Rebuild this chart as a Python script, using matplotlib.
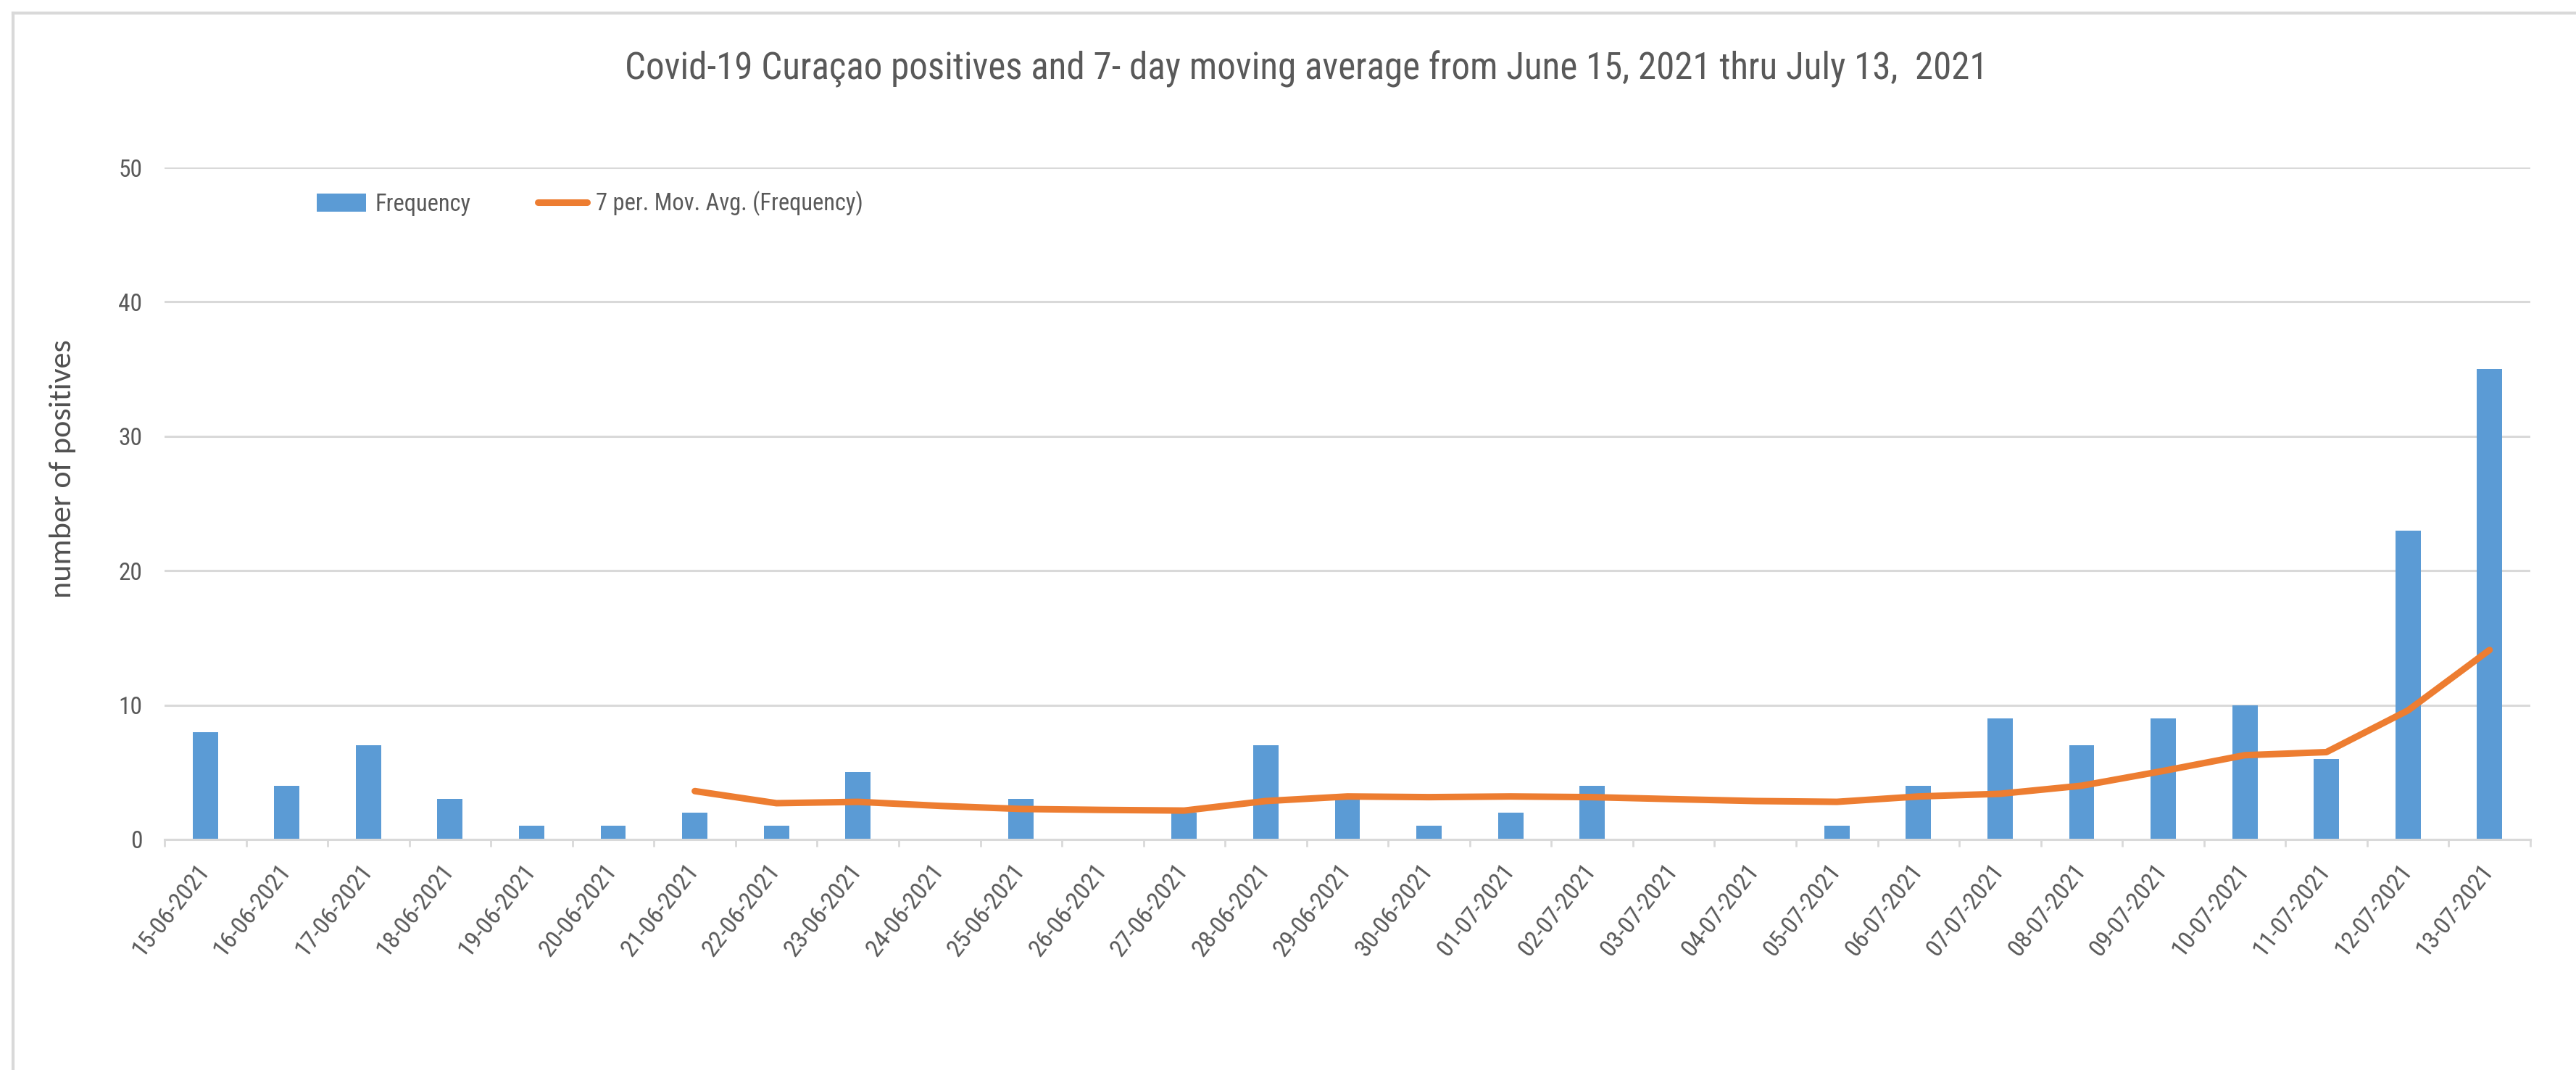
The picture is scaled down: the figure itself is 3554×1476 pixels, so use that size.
import numpy as np
import matplotlib
matplotlib.use("Agg")
import matplotlib.pyplot as plt
from matplotlib.lines import Line2D
from matplotlib.patches import Patch

dates = ["15-06-2021", "16-06-2021", "17-06-2021", "18-06-2021", "19-06-2021",
         "20-06-2021", "21-06-2021", "22-06-2021", "23-06-2021", "24-06-2021",
         "25-06-2021", "26-06-2021", "27-06-2021", "28-06-2021", "29-06-2021",
         "30-06-2021", "01-07-2021", "02-07-2021", "03-07-2021", "04-07-2021",
         "05-07-2021", "06-07-2021", "07-07-2021", "08-07-2021", "09-07-2021",
         "10-07-2021", "11-07-2021", "12-07-2021", "13-07-2021"]
frequency = [8, 4, 7, 3, 1, 1, 2, 1, 5, 0, 3, 0, 2, 7, 3, 1, 2, 4, 0, 0,
             1, 4, 9, 7, 9, 10, 6, 23, 35]
moving_avg = [np.nan, np.nan, np.nan, np.nan, np.nan, np.nan,
              3.6, 2.7, 2.8, 2.5, 2.27, 2.2, 2.15, 2.86, 3.2, 3.15, 3.2, 3.15,
              3.0, 2.86, 2.8, 3.2, 3.4, 4.0, 5.1, 6.27, 6.5, 9.6, 14.1]
yticks = [0, 10, 20, 30, 40, 50]

title = "Covid-19 Curaçao positives and 7- day moving average from June 15, 2021 thru July 13,  2021"
ylabel = "number of positives"
bar_label = "Frequency"
line_label = "7 per. Mov. Avg. (Frequency)"

NARROW = ["Roboto Condensed", "PT Sans Narrow", "DejaVu Sans"]
WIDE = ["Carlito", "Liberation Sans", "DejaVu Sans"]
TXT = "#595959"
GRID = "#D9D9D9"
BLUE = "#5B9BD5"
ORANGE = "#ED7D31"

W, H = 3554, 1476
fig = plt.figure(figsize=(W / 100, H / 100), dpi=100)
fig.patch.set_facecolor("white")
renderer = fig.canvas.get_renderer()


def fit_size(s, family, target, size0=30.0):
    t = fig.text(0, 0, s, family=family, fontsize=size0)
    bb = t.get_window_extent(renderer)
    t.remove()
    return size0 * target / bb.width


title_fs = fit_size(title, NARROW, 1879)
ytick_fs = fit_size("40", NARROW, 33)
legend_fs = fit_size(line_label, NARROW, 369)
xtick_fs = fit_size("15-06-2021", NARROW, 152)
ylabel_fs = fit_size(ylabel, WIDE, 356)

ax = fig.add_axes([227 / W, 1 - 1158 / H, (3491 - 227) / W, (1158 - 231) / H])
x = np.arange(len(dates))
ax.bar(x, frequency, width=0.31, color=BLUE, zorder=2)
ax.plot(x, moving_avg, color=ORANGE, lw=6.5, zorder=3, solid_capstyle="round")

ax.set_xlim(-0.5, len(dates) - 0.5)
ax.set_ylim(0, 50)
ax.set_yticks(yticks)
ax.set_yticklabels([str(v) for v in yticks], family=NARROW, fontsize=ytick_fs, color=TXT)
ax.yaxis.grid(True, color=GRID, lw=2.2, zorder=0)
ax.set_axisbelow(True)
ax.tick_params(axis="y", length=0, pad=22)

# category boundaries carry the tick marks; labels sit on invisible minor ticks
ax.set_xticks(np.arange(len(dates) + 1) - 0.5)
ax.set_xticklabels([])
label_shift = 0.107
ax.set_xticks(x + label_shift, minor=True)
ax.set_xticklabels(dates, minor=True, family=NARROW, fontsize=xtick_fs, color=TXT)
ax.tick_params(axis="x", which="major", length=7, width=2, color=GRID)
ax.tick_params(axis="x", which="minor", length=0, pad=20, labelrotation=52)
for lab in ax.get_xticklabels(minor=True):
    lab.set_rotation(52)
    lab.set_ha("right")
    lab.set_va("top")

for s in ["top", "right", "left"]:
    ax.spines[s].set_visible(False)
ax.spines["bottom"].set_color(GRID)
ax.spines["bottom"].set_linewidth(2.2)

fig.text(1802 / W, 1 - 95 / H, title, ha="center", va="center",
         family=NARROW, fontsize=title_fs, color=TXT)
fig.text(87 / W, 1 - 647 / H, ylabel, ha="center", va="center", rotation=90,
         family=WIDE, fontsize=ylabel_fs, color="#505050")

lfs_px = legend_fs * 100 / 72
handles = [Patch(facecolor=BLUE, edgecolor="none"),
           Line2D([], [], color=ORANGE, lw=6.5, solid_capstyle="round")]
leg = fig.legend(handles, [bar_label, line_label], loc="center left",
                 bbox_to_anchor=(437 / W, 1 - 281 / H),
                 bbox_transform=fig.transFigure, ncol=2, frameon=False,
                 prop={"family": NARROW, "size": legend_fs}, borderpad=0,
                 borderaxespad=0, handlelength=68 / lfs_px,
                 handleheight=27 / lfs_px, handletextpad=12 / lfs_px,
                 columnspacing=93 / lfs_px)
for t in leg.get_texts():
    t.set_color(TXT)

fig.add_artist(Line2D([18 / W, 1], [1 - 18 / H, 1 - 18 / H],
                      transform=fig.transFigure, color=GRID, lw=3))
fig.add_artist(Line2D([18 / W, 18 / W], [0, 1 - 18 / H],
                      transform=fig.transFigure, color=GRID, lw=3))

fig.savefig("out.png", dpi=100, facecolor="white")
